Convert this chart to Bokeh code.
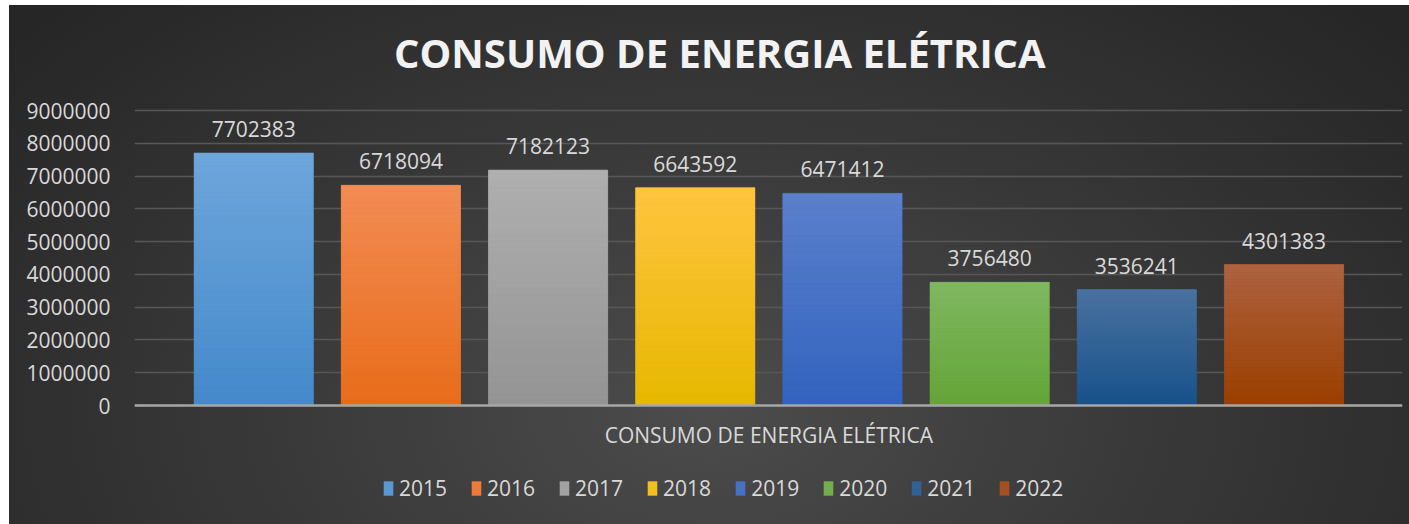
from bokeh.plotting import figure
from bokeh.models import (ColumnDataSource, Range1d, FixedTicker, BasicTickFormatter,
                          LabelSet, Label, Legend, LegendItem, Span)
from bokeh.core.properties import value
from bokeh.embed import file_html
from bokeh.resources import INLINE

# ---- data ----
years = ["2015", "2016", "2017", "2018", "2019", "2020", "2021", "2022"]
values = [7702383, 6718094, 7182123, 6643592, 6471412, 3756480, 3536241, 4301383]
y_ticks = [0, 1000000, 2000000, 3000000, 4000000, 5000000, 6000000, 7000000, 8000000, 9000000]
title_text = "CONSUMO DE ENERGIA ELÉTRICA"
x_label = "CONSUMO DE ENERGIA ELÉTRICA"

# ---- styles ----
top_colors = ["#6ea6db", "#f28c55", "#afafaf", "#ffc440", "#5a80cc", "#80b862", "#4a72a0", "#ad6241"]
bot_colors = ["#4489cb", "#e86c1a", "#949494", "#e6b800", "#3363bf", "#64a437", "#17528a", "#9a3f00"]
FONT = "Open Sans"
TXT = "#d9d9d9"


def hex2rgb(h):
    h = h.lstrip("#")
    return [int(h[i:i + 2], 16) for i in (0, 2, 4)]


def mix(c1, c2, t):
    a, b = hex2rgb(c1), hex2rgb(c2)
    return "#%02x%02x%02x" % tuple(int(round(a[i] + (b[i] - a[i]) * t)) for i in range(3))


n = len(years)
xs = list(range(n))
mid_colors = [mix(t, b, 0.5) for t, b in zip(top_colors, bot_colors)]

src = ColumnDataSource(dict(x=xs, year=years, value=values, color=mid_colors,
                            label=[str(v) for v in values]))

# frame layout in pixels: title strip above the value area, category label + legend below
ABOVE_PX, PLOT_PX, BELOW_PX = 105, 295, 119
y_top = y_ticks[-1]
y_low = -y_top * BELOW_PX / PLOT_PX
y_high = y_top + y_top * ABOVE_PX / PLOT_PX

p = figure(frame_width=1268, frame_height=ABOVE_PX + PLOT_PX + BELOW_PX, output_backend="svg",
           toolbar_location=None,
           x_range=Range1d(-0.81, n - 0.195), y_range=Range1d(y_low, y_high),
           min_border_left=125, min_border_right=7, min_border_top=0,
           min_border_bottom=0)
p.margin = (5, 0, 0, 9)

p.background_fill_color = None
p.border_fill_color = None
p.outline_line_color = None
p.styles = {"background": "radial-gradient(ellipse 65% 110% at 50% 78%, #4c4c4c 0%, #3a3a3a 45%, #262626 100%)"}

# gridlines only for the value ticks
p.xgrid.grid_line_color = None
p.ygrid.grid_line_color = "#575757"
p.ygrid.grid_line_width = 1.5

# base bars (legend swatches)
bars = p.vbar(x="x", top="value", width=0.81, bottom=0, source=src,
              fill_color="color", line_color=None)

# gradient slices
K = 40
gx, gb, gt, gc = [], [], [], []
for i, v in enumerate(values):
    for k in range(K):
        gx.append(xs[i])
        gb.append(v * k / K)
        gt.append(v * (k + 1) / K)
        gc.append(mix(bot_colors[i], top_colors[i], (k + 0.5) / K))
gsrc = ColumnDataSource(dict(x=gx, bottom=gb, top=gt, color=gc))
p.vbar(x="x", bottom="bottom", top="top", width=0.81, source=gsrc,
       fill_color="color", line_color="color", line_width=0.6)

# category axis line at zero
p.add_layout(Span(location=0, dimension="width", line_color="#a6a6a6", line_width=2.5))

# data labels
labels = LabelSet(x="x", y="value", text="label", source=src, text_align="center",
                  text_baseline="bottom", y_offset=16, text_font=value(FONT),
                  text_font_size=value("21px"), text_color=value(TXT))
p.add_layout(labels)

# chart title
p.add_layout(Label(x=(n - 1) / 2, y=y_top, x_offset=-49, y_offset=58, text=title_text,
                   text_align="center", text_baseline="middle", text_font=FONT,
                   text_font_style="bold", text_font_size="40px", text_color="#f2f2f2"))

# category label under the axis line
p.add_layout(Label(x=(n - 1) / 2, y=0, y_offset=-29, text=x_label, text_align="center",
                   text_baseline="middle", text_font=FONT, text_font_size="21px",
                   text_color=TXT))

# y axis
p.yaxis.ticker = FixedTicker(ticks=y_ticks)
p.yaxis.formatter = BasicTickFormatter(use_scientific=False)
p.yaxis.axis_line_color = None
p.yaxis.major_tick_line_color = None
p.yaxis.minor_tick_line_color = None
p.yaxis.major_label_text_font = FONT
p.yaxis.major_label_text_font_size = "21px"
p.yaxis.major_label_text_color = TXT
p.yaxis.major_label_standoff = 18
p.xaxis.visible = False

# legend (inside the frame, below the zero line)
legend = Legend(items=[LegendItem(label=years[i], renderers=[bars], index=i) for i in range(n)],
                orientation="horizontal", location=(248, 22))
legend.background_fill_color = None
legend.background_fill_alpha = 0
legend.border_line_color = None
legend.label_text_font = FONT
legend.label_text_font_size = "21px"
legend.label_text_color = TXT
legend.glyph_width = 12
legend.glyph_height = 18
legend.label_standoff = 5
legend.spacing = 23
legend.margin = 0
legend.padding = 4
p.add_layout(legend, "center")

open("out.html", "w").write(file_html(p, INLINE))
